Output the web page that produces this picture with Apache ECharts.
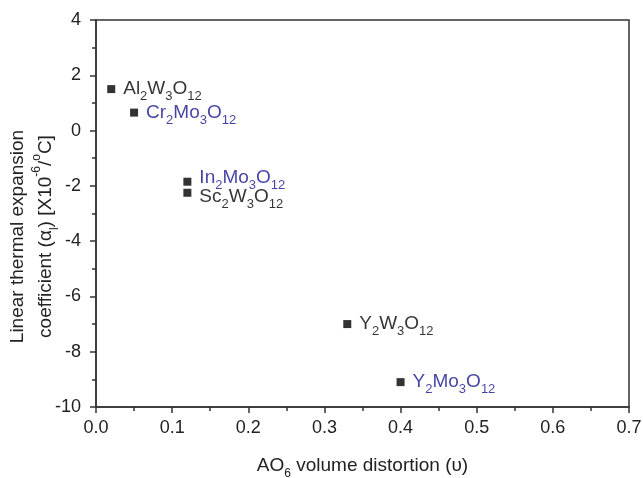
<!DOCTYPE html>
<html>
<head>
<meta charset="utf-8">
<script src="https://cdn.jsdelivr.net/npm/echarts@6/dist/echarts.min.js"></script>
<style>
  html, body { margin: 0; padding: 0; background: #fff; }
  #chart { width: 643px; height: 478px; }
</style>
</head>
<body>
<div id="chart"></div>
<script>
// compounds as rich text parts: [element, count, element, count, ...]
const compounds = [
  ['Al', '2', 'W', '3', 'O', '12'],
  ['Cr', '2', 'Mo', '3', 'O', '12'],
  ['In', '2', 'Mo', '3', 'O', '12'],
  ['Sc', '2', 'W', '3', 'O', '12'],
  ['Y', '2', 'W', '3', 'O', '12'],
  ['Y', '2', 'Mo', '3', 'O', '12']
]
// AO6 volume distortion
const distortion = [0.02, 0.05, 0.12, 0.12, 0.33, 0.40]
// linear thermal expansion coefficient (x10^-6 /C)
const expansion = [1.5, 0.65, -1.85, -2.25, -7.0, -9.1]

const xTicks = { min: 0, max: 0.7, interval: 0.1 }
const yTicks = { min: -10, max: 4, interval: 2 }

const BLUE = '#14148c'
const AXIS = '#333'
const FONT = 'Liberation Sans, Arial, sans-serif'

// In and Sc sit close together, nudge their labels apart a bit
const labelNudge = { In2Mo3O12: [0, -4], Sc2W3O12: [0, 4] }

function richName(parts) {
  let s = ''
  parts.forEach((p, i) => {
    s += (i % 2 === 0 ? '{n|' : '{s|') + p + '}'
  })
  return s
}

const chart = echarts.init(document.getElementById('chart'))

const data = compounds.map((c, i) => {
  const name = c.join('')
  const color = c.indexOf('Mo') >= 0 ? BLUE : '#000'
  return {
    value: [distortion[i], expansion[i]],
    name,
    label: {
      formatter: richName(c),
      offset: labelNudge[name] || [0, 0],
      rich: {
        n: { fontSize: 19, fontFamily: FONT, lineHeight: 26, color },
        s: { fontSize: 13, fontFamily: FONT, verticalAlign: 'bottom', lineHeight: 28, color }
      }
    }
  }
})

const option = {
  animation: false,
  backgroundColor: '#fff',
  grid: {
    left: 96,
    right: 14,
    top: 20,
    bottom: 71,
    containLabel: false,
    outerBoundsMode: 'none',
    show: true,
    borderColor: AXIS,
    borderWidth: 1.5,
    backgroundColor: 'transparent'
  },
  xAxis: {
    type: 'value',
    min: xTicks.min,
    max: xTicks.max,
    interval: xTicks.interval,
    name: '{n|AO}{s|6}{n| volume distortion (\u03C5)}',
    nameLocation: 'middle',
    nameGap: 45,
    nameMoveOverlap: false,
    nameTextStyle: {
      color: '#222',
      rich: {
        n: { fontSize: 19, fontFamily: FONT, color: '#222', lineHeight: 24 },
        s: { fontSize: 12, fontFamily: FONT, color: '#222', verticalAlign: 'bottom', lineHeight: 28 }
      }
    },
    axisLine: { show: true, onZero: false, lineStyle: { color: AXIS, width: 1.5 } },
    axisTick: { show: true, length: 6, lineStyle: { color: AXIS, width: 1.5 } },
    minorTick: { show: true, splitNumber: 2, length: 4, lineStyle: { color: AXIS, width: 1.5 } },
    splitLine: { show: false },
    axisLabel: {
      margin: 12,
      fontSize: 18,
      fontFamily: FONT,
      color: '#222',
      formatter: v => v.toFixed(1)
    }
  },
  yAxis: {
    type: 'value',
    min: yTicks.min,
    max: yTicks.max,
    interval: yTicks.interval,
    name: '{n|Linear thermal expansion}\n{n|coefficient (\u03B1}{s|l}{n|) [X10}{p|-6}{n|/}{p|o}{n|C]}',
    nameLocation: 'middle',
    nameRotate: 90,
    nameGap: 35,
    nameMoveOverlap: false,
    nameTextStyle: {
      color: '#222',
      padding: [0, 46, 0, 0],
      rich: {
        n: { fontSize: 19, fontFamily: FONT, color: '#222', lineHeight: 26 },
        s: { fontSize: 12, fontFamily: FONT, color: '#222', verticalAlign: 'bottom', lineHeight: 30 },
        p: { fontSize: 12, fontFamily: FONT, color: '#222', verticalAlign: 'top', lineHeight: 22 }
      }
    },
    axisLine: { show: true, onZero: false, lineStyle: { color: AXIS, width: 1.5 } },
    axisTick: { show: true, length: 6, lineStyle: { color: AXIS, width: 1.5 } },
    minorTick: { show: true, splitNumber: 2, length: 4, lineStyle: { color: AXIS, width: 1.5 } },
    splitLine: { show: false },
    axisLabel: {
      margin: 15,
      fontSize: 18,
      fontFamily: FONT,
      color: '#222'
    }
  },
  series: [{
    type: 'scatter',
    symbol: 'rect',
    symbolSize: 8,
    itemStyle: { color: '#000' },
    label: {
      show: true,
      position: 'right',
      distance: 8
    },
    data
  }]
}

chart.setOption(option)
</script>
</body>
</html>
